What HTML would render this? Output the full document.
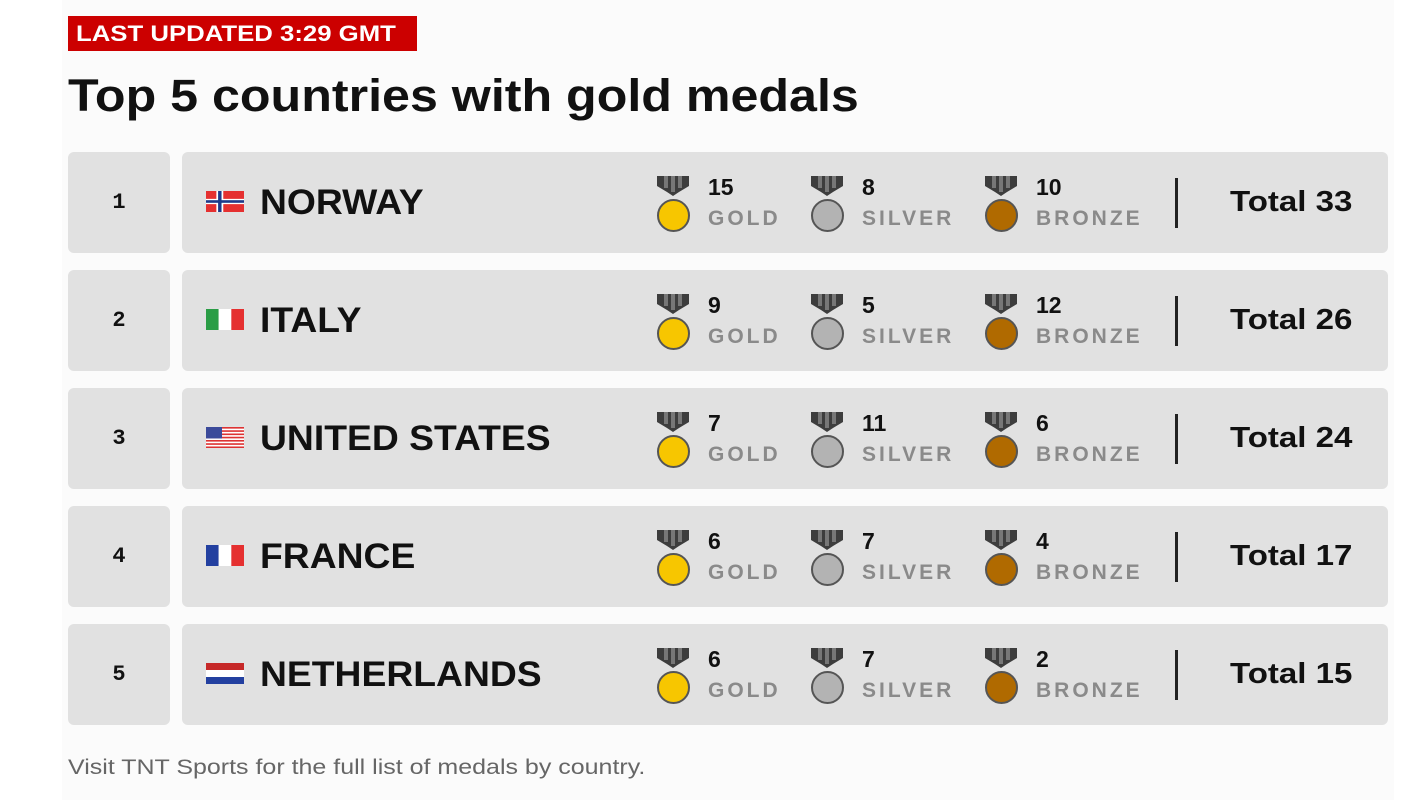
<!DOCTYPE html>
<html><head><meta charset="utf-8"><style>
body{margin:0;width:1414px;height:800px;background:#fff;font-family:"Liberation Sans",Arial,sans-serif;position:relative;overflow:hidden}
.panel{position:absolute;left:62px;top:0;width:1332px;height:800px;background:#fbfbfb}
.badge{position:absolute;left:68px;top:16px;width:349px;height:35px;background:#cc0000}
.badge span{position:absolute;left:8px;top:0;color:#fff;font-weight:bold;font-size:22px;line-height:35px;white-space:nowrap;transform:scaleX(1.17);transform-origin:left}
h1{position:absolute;left:68px;top:68px;margin:0;font-size:45px;font-weight:bold;color:#111;line-height:56px;white-space:nowrap;transform:scaleX(1.115);transform-origin:left}
.rank{position:absolute;left:68px;width:102px;height:101px;background:#e1e1e1;border-radius:6px;font-family:"Liberation Mono",monospace;font-weight:bold;font-size:22px;line-height:101px;text-align:center;color:#111}
.box{position:absolute;left:182px;width:1206px;height:101px;background:#e1e1e1;border-radius:6px}
.flag{position:absolute;left:24px;top:39px;width:38px;height:21px}
.name{position:absolute;left:78px;top:0;line-height:101px;font-size:35px;font-weight:bold;color:#111;white-space:nowrap;transform:scaleX(1.065);transform-origin:left}
.m{position:absolute;top:24px}
.rib{position:absolute;left:0;top:0;width:32px;height:20px}
.coin{position:absolute;left:0;top:23px;width:30px;height:30px;border-radius:50%;border:2px solid #555;box-sizing:border-box;width:33px;height:33px}
.num{position:absolute;left:51px;top:-2px;font-size:23px;font-weight:bold;color:#111}
.lab{position:absolute;left:51px;top:31px;font-size:21px;font-weight:bold;color:#8a8a8a;letter-spacing:3px;white-space:nowrap}
.div{position:absolute;left:993px;top:26px;width:3px;height:50px;background:#222}
.tot{position:absolute;right:36px;top:0;line-height:101px;font-size:29px;font-weight:bold;color:#111;white-space:nowrap;transform:scaleX(1.14);transform-origin:right}
.foot{position:absolute;left:68px;top:756px;font-size:21px;color:#666;white-space:nowrap;transform:scaleX(1.19);transform-origin:left}
</style></head><body>
<div class="panel"></div>
<div class="badge"><span>LAST UPDATED 3:29 GMT</span></div>
<h1>Top 5 countries with gold medals</h1>
<div id="rows"></div>
<div class="foot">Visit TNT Sports for the full list of medals by country.</div>
<script>
var rib='<svg class="rib" viewBox="0 0 32 20"><path d="M0 0h32v10l-10 6-6 4-6-4-10-6z" fill="#3d3d3d"/><rect x="7" y="0" width="4" height="12" fill="#777"/><rect x="14" y="0" width="4" height="16" fill="#777"/><rect x="21" y="0" width="4" height="12" fill="#777"/></svg>';
var P=' preserveAspectRatio="none"';
var flags={
no:'<svg class="flag"'+P+' viewBox="0 0 22 16"><rect width="22" height="16" fill="#e53030"/><rect x="6" width="4" height="16" fill="#fff"/><rect y="6" width="22" height="4" fill="#fff"/><rect x="7" width="2" height="16" fill="#1d3a8a"/><rect y="7" width="22" height="2" fill="#1d3a8a"/></svg>',
it:'<svg class="flag"'+P+' viewBox="0 0 3 2"><rect width="1" height="2" fill="#2a9d46"/><rect x="1" width="1" height="2" fill="#fff"/><rect x="2" width="1" height="2" fill="#e53030"/></svg>',
us:'<svg class="flag"'+P+' viewBox="0 0 38 22"><rect width="38" height="22" fill="#fff"/>'+[0,1,2,3,4,5,6].map(function(i){return '<rect y="'+(i*3.4)+'" width="38" height="1.7" fill="#d33"/>'}).join('')+'<rect width="16" height="12" fill="#3b4a9a"/></svg>',
fr:'<svg class="flag"'+P+' viewBox="0 0 3 2"><rect width="1" height="2" fill="#2340a0"/><rect x="1" width="1" height="2" fill="#fff"/><rect x="2" width="1" height="2" fill="#e53030"/></svg>',
nl:'<svg class="flag"'+P+' viewBox="0 0 3 3"><rect width="3" height="1" fill="#c62828"/><rect y="1" width="3" height="1" fill="#fff"/><rect y="2" width="3" height="1" fill="#2340a0"/></svg>'};
var d=[["1","no","NORWAY",15,8,10,33],["2","it","ITALY",9,5,12,26],["3","us","UNITED STATES",7,11,6,24],["4","fr","FRANCE",6,7,4,17],["5","nl","NETHERLANDS",6,7,2,15]];
var h='';
d.forEach(function(r,i){var y=152+i*118;
function med(x,c,n,l){return '<div class="m" style="left:'+x+'px">'+rib+'<div class="coin" style="background:'+c+'"></div><div class="num">'+n+'</div><div class="lab">'+l+'</div></div>';}
h+='<div class="rank" style="top:'+y+'px">'+r[0]+'</div><div class="box" style="top:'+y+'px">'+flags[r[1]]+'<div class="name">'+r[2]+'</div>'+med(475,'#f7c600',r[3],'GOLD')+med(629,'#b3b3b3',r[4],'SILVER')+med(803,'#b06a00',r[5],'BRONZE')+'<div class="div"></div><div class="tot">Total '+r[6]+'</div></div>';});
document.getElementById('rows').innerHTML=h;
</script>
</body></html>
